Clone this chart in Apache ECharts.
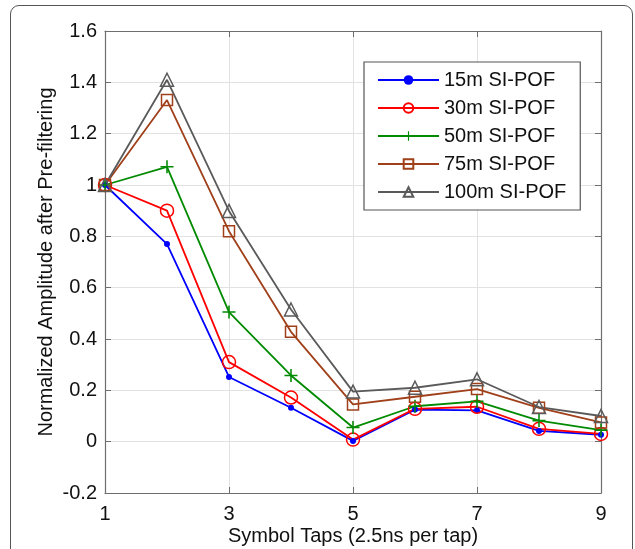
<!DOCTYPE html>
<html>
<head>
<meta charset="utf-8">
<script src="https://cdn.jsdelivr.net/npm/echarts@6/dist/echarts.min.js"></script>
<style>
  html, body { margin: 0; padding: 0; background: #fff; }
  #frame { position: absolute; left: 10px; top: 5px; width: 621px; height: 600px;
    border: 1.5px solid #555; border-radius: 9px; }
  #chart { position: absolute; left: 0; top: 0; width: 635px; height: 549px; }
</style>
</head>
<body>
<div id="frame"></div>
<div id="chart"></div>
<script>
// symbol taps on the x axis
var taps = [1, 2, 3, 4, 5, 6, 7, 8, 9];
var names = ['15m SI-POF', '30m SI-POF', '50m SI-POF', '75m SI-POF', '100m SI-POF'];
// values
var pof15 = [1.0, 0.77, 0.252, 0.132, 0.003, 0.125, 0.122, 0.042, 0.027];
var pof30 = [1.0, 0.90, 0.31, 0.172, 0.008, 0.128, 0.136, 0.05, 0.03];
var pof50 = [1.0, 1.071, 0.505, 0.258, 0.055, 0.138, 0.157, 0.082, 0.045];
var pof75 = [1.0, 1.331, 0.82, 0.428, 0.145, 0.175, 0.205, 0.132, 0.075];
var pof100 = [1.0, 1.41, 0.899, 0.515, 0.195, 0.21, 0.243, 0.135, 0.10];
var xTicks = { min: 1, max: 9, interval: 2 };
var yTicks = { min: -0.2, max: 1.6, interval: 0.2 };

var font = 'Liberation Sans, Arial, sans-serif';
var plusPath = 'path://M4.4,0H5.6V4.4H10V5.6H5.6V10H4.4V5.6H0V4.4H4.4Z';

function pairs(vals) {
  return taps.map(function (t, i) { return [t, vals[i]]; });
}

function mkSeries(name, vals, color, symbol, size, hollow) {
  return {
    name: name,
    type: 'line',
    data: pairs(vals),
    symbol: symbol,
    symbolSize: size,
    lineStyle: { color: color, width: 1.8 },
    itemStyle: hollow
      ? { color: 'rgba(255,255,255,0)', borderColor: color, borderWidth: 1.5 }
      : { color: color, borderWidth: 0 },
    emphasis: { disabled: true },
    z: 3
  };
}

var chart = echarts.init(document.getElementById('chart'), null, { renderer: 'canvas' });

var axisLine = { show: true, onZero: false, lineStyle: { color: '#6e6e6e', width: 1.2 } };
var tick = { show: true, inside: true, length: 6, lineStyle: { color: '#6e6e6e', width: 1 } };

var option = {
  backgroundColor: 'transparent',
  animation: false,
  textStyle: { fontFamily: font },
  grid: { left: 105, top: 31, right: 34, bottom: 56, containLabel: false, outerBoundsMode: 'none' },
  legend: {
    orient: 'vertical',
    left: 364,
    top: 62,
    width: 211,
    padding: [8, 14, 8, 13],
    itemWidth: 61,
    itemHeight: 12,
    itemGap: 8,
    backgroundColor: '#fff',
    borderColor: '#555',
    borderWidth: 1.2,
    borderRadius: 0,
    textStyle: { fontSize: 20, color: '#111', fontFamily: font },
    data: names
  },
  xAxis: [{
    type: 'value',
    min: xTicks.min, max: xTicks.max, interval: xTicks.interval,
    name: 'Symbol Taps (2.5ns per tap)',
    nameLocation: 'middle',
    nameGap: 33,
    nameMoveOverlap: false,
    nameTextStyle: { fontSize: 20, color: '#111', fontFamily: font },
    axisLine: axisLine,
    axisTick: tick,
    axisLabel: { fontSize: 20, color: '#111', margin: 11, fontFamily: font },
    splitLine: { show: true, lineStyle: { color: '#e2e2e2', width: 1 } }
  }, {
    type: 'value', position: 'top',
    min: xTicks.min, max: xTicks.max, interval: xTicks.interval,
    axisLine: axisLine, axisTick: tick,
    axisLabel: { show: false }, splitLine: { show: false }
  }],
  yAxis: [{
    type: 'value',
    min: yTicks.min, max: yTicks.max, interval: yTicks.interval,
    name: 'Normalized Amplitude after Pre-filtering',
    nameLocation: 'middle',
    nameGap: 49,
    nameMoveOverlap: false,
    nameTextStyle: { fontSize: 20, color: '#111', fontFamily: font },
    axisLine: axisLine,
    axisTick: tick,
    axisLabel: { fontSize: 20, color: '#111', margin: 8, fontFamily: font },
    splitLine: { show: true, lineStyle: { color: '#e2e2e2', width: 1 } }
  }, {
    type: 'value', position: 'right',
    min: yTicks.min, max: yTicks.max, interval: yTicks.interval,
    axisLine: axisLine, axisTick: tick,
    axisLabel: { show: false }, splitLine: { show: false }
  }],
  series: [
    mkSeries(names[0], pof15, '#0000ff', 'circle', 6, false),
    mkSeries(names[1], pof30, '#ff0000', 'circle', 13, true),
    mkSeries(names[2], pof50, '#008a00', plusPath, 13, false),
    mkSeries(names[3], pof75, '#a0401a', 'rect', 11, true),
    mkSeries(names[4], pof100, '#5a5a5a', 'triangle', 13, true)
  ]
};

chart.setOption(option);
</script>
</body>
</html>
